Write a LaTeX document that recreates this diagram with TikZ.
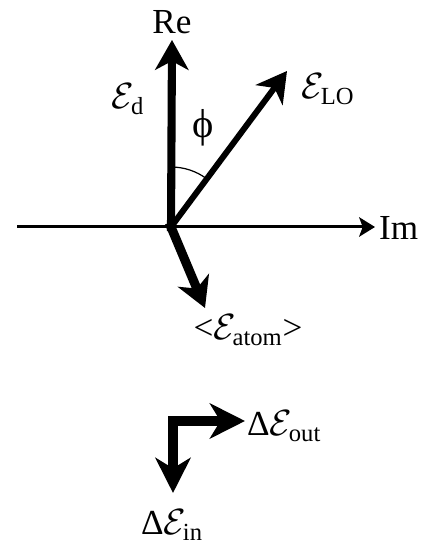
\documentclass[tikz,border=0pt]{standalone}
\usepackage{amsmath}
\usepackage{fontspec}
\setmainfont{Liberation Serif}
\usetikzlibrary{arrows.meta}

\begin{document}
\begin{tikzpicture}[x=0.02cm,y=0.02cm,
        lbl/.style={font=\fontsize{20}{22}\selectfont, inner sep=1pt},
        axis/.style={line width=1.7pt,-{Stealth[length=9pt,width=11pt,inset=2pt]}},
        vec/.style={line width=#1,line cap=rect,-{Stealth[length=17pt,width=19pt,inset=5pt]}}]
        \useasboundingbox (0,0) rectangle (429,546);
        % axes
        \coordinate (O) at (171,319);
        \coordinate (imL) at (17,319);
        \coordinate (imR) at (375,319);
        \draw[axis] (imL) -- (imR);
        \node[lbl,anchor=west] (im) at (377,318) {Im};
        % field vectors
        \coordinate (dtip) at (172,506);
        \coordinate (lotip) at (287,475);
        \coordinate (attip) at (205,238);
        \draw[vec=3.4pt] (O) -- (lotip);
        \draw[vec=4.6pt] (O) -- (dtip);
        \draw[vec=5.2pt] (O) -- (attip);
        \node[lbl] (re) at (172,524) {Re};
        \node[lbl] (ed) at (128,447) {$\mathcal{E}_{\text{d}}$};
        \node[lbl] (elo) at (328,457) {$\mathcal{E}_{\text{LO}}$};
        \node[lbl] (eat) at (248,216) {<$\mathcal{E}_{\text{atom}}$>};
        % angle
        \draw[line width=0.7pt] ([shift={(90:60)}]O) arc (90:54:60);
        \node[lbl,font=\fontsize{23}{25}\selectfont] (phi) at (203,418) {ϕ};
        % changes
        \coordinate (C) at (173,125);
        \coordinate (outtip) at (245,125);
        \coordinate (intip) at (173,53);
        \draw[vec=5.7pt,-{Stealth[length=20pt,width=20pt,inset=6pt]}] (C) -- (outtip);
        \draw[vec=5.7pt,-{Stealth[length=20pt,width=20pt,inset=6pt]}] (C) -- (intip);
        \node[lbl,anchor=west] (dout) at (245,120) {Δ$\mathcal{E}_{\text{out}}$};
        \node[lbl] (din) at (172,21) {Δ$\mathcal{E}_{\text{in}}$};
\end{tikzpicture}
\end{document}
